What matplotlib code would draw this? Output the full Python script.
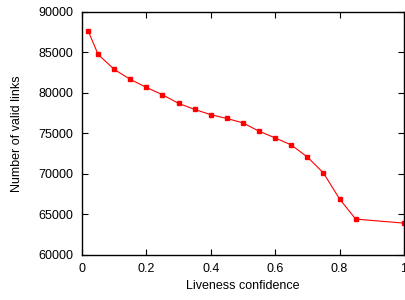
import matplotlib
matplotlib.use('Agg')
import matplotlib.pyplot as plt

# Liveness confidence vs number of valid links
confidence = [0.02, 0.05, 0.1, 0.15, 0.2, 0.25, 0.3, 0.35, 0.4, 0.45,
              0.5, 0.55, 0.6, 0.65, 0.7, 0.75, 0.8, 0.85, 1.0]
valid_links = [87600, 84750, 82900, 81660, 80670, 79760, 78690, 77950, 77290, 76830,
               76280, 75250, 74420, 73550, 72060, 70080, 66860, 64380, 63880]

plt.rcParams['font.family'] = 'Liberation Sans'
plt.rcParams['font.size'] = 9

fig = plt.figure(figsize=(4.06, 3.0), dpi=100)
ax = fig.add_axes([82/406, 1 - 254.5/300, (404 - 82)/406, (254.5 - 12)/300])

ax.plot(confidence, valid_links, color='#ff0000', linewidth=0.8,
        marker='s', markersize=3)

ax.set_xlim(0, 1)
ax.set_ylim(60000, 90000)
ax.set_xticks([0, 0.2, 0.4, 0.6, 0.8, 1])
ax.set_xticklabels(['0', '0.2', '0.4', '0.6', '0.8', '1'])
ax.set_yticks(range(60000, 90001, 5000))
ax.tick_params(direction='in', top=True, right=True, length=4, width=0.8, pad=6)
for s in ax.spines.values():
    s.set_linewidth(1.0)

ax.set_xlabel('Liveness confidence', labelpad=4)
ax.set_ylabel('Number of valid links', labelpad=11)

fig.savefig('out.png', dpi=100)
